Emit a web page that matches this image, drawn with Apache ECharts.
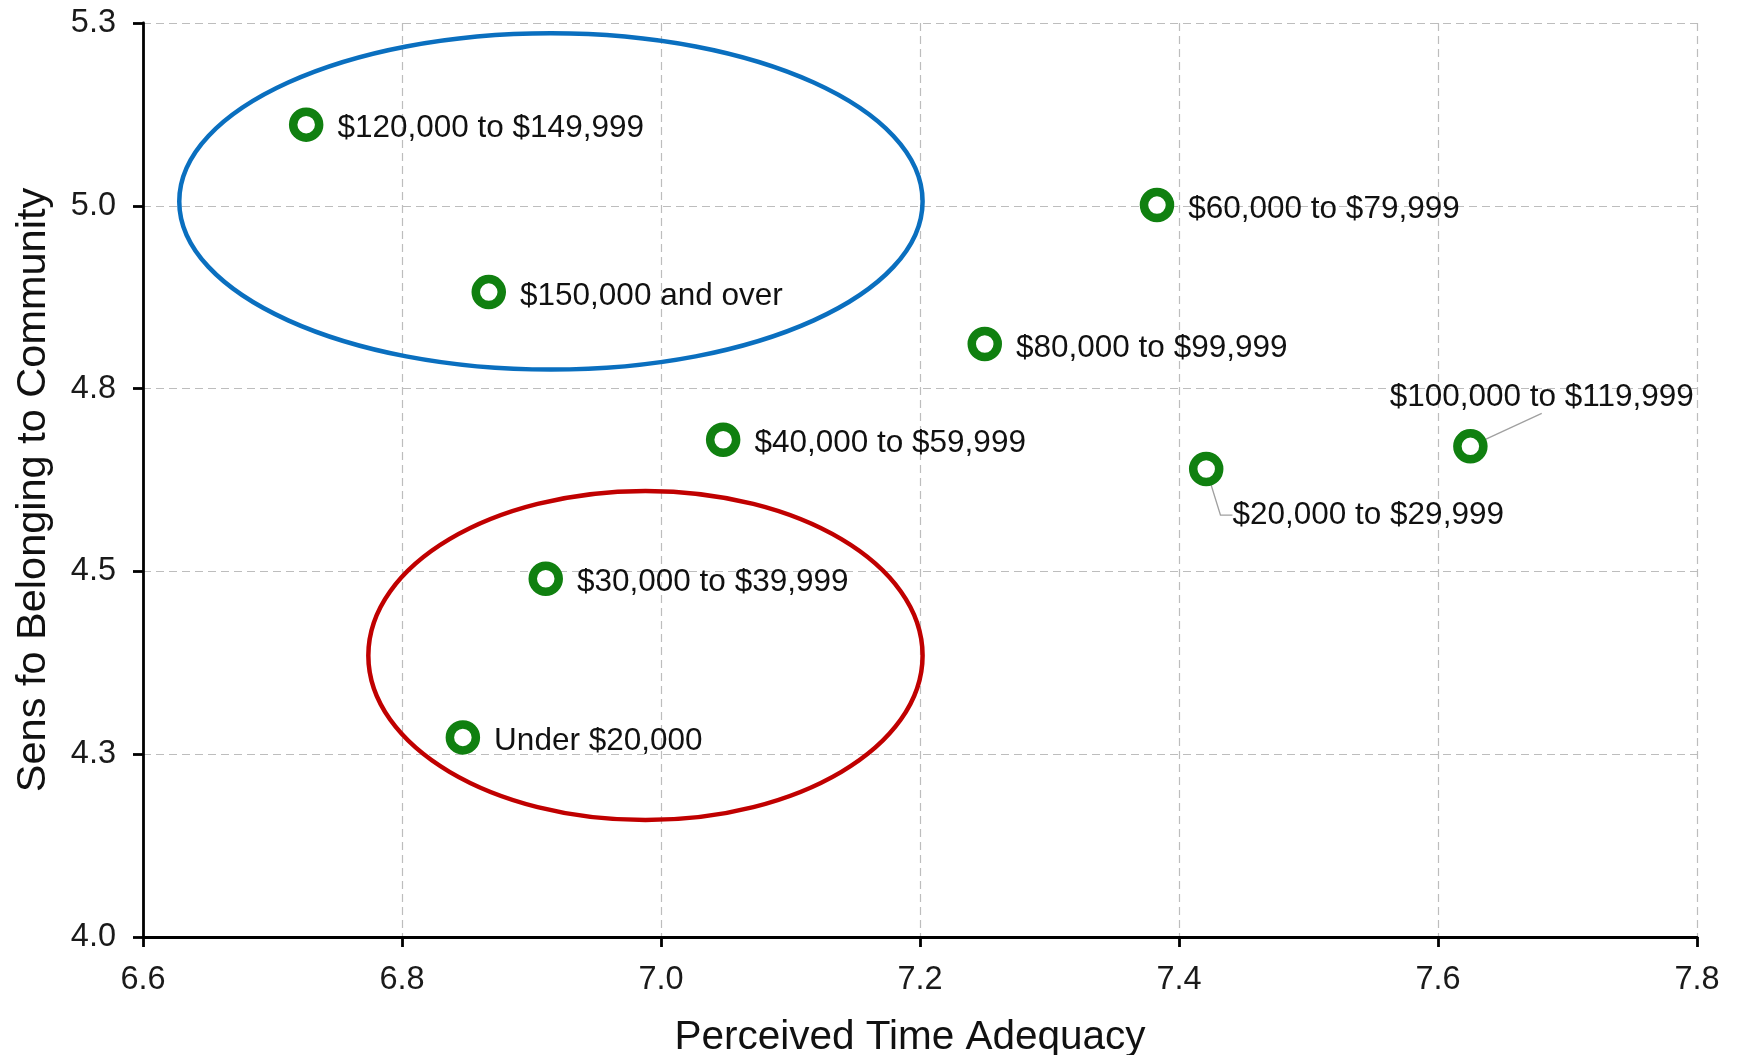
<!DOCTYPE html>
<html>
<head>
<meta charset="utf-8">
<script src="https://cdn.jsdelivr.net/npm/echarts@6/dist/echarts.min.js"></script>
<style>
  html, body { margin: 0; padding: 0; background: #fff; }
  #chart { width: 1738px; height: 1055px; }
</style>
</head>
<body>
<div id="chart"></div>
<script>
// ---- data ----
const categories = [
  'Under $20,000', '$20,000 to $29,999', '$30,000 to $39,999', '$40,000 to $59,999',
  '$60,000 to $79,999', '$80,000 to $99,999', '$100,000 to $119,999',
  '$120,000 to $149,999', '$150,000 and over'
];
const timeAdequacy = [6.847, 7.421, 6.911, 7.048, 7.383, 7.250, 7.625, 6.726, 6.867];
const belonging    = [4.273, 4.640, 4.490, 4.680, 5.001, 4.811, 4.671, 5.111, 4.882];

const xTickValues = [6.6, 6.8, 7.0, 7.2, 7.4, 7.6, 7.8];
const xTickLabels = ['6.6', '6.8', '7.0', '7.2', '7.4', '7.6', '7.8'];
const yTickValues = [4.0, 4.25, 4.5, 4.75, 5.0, 5.25];
const yTickLabels = ['4.0', '4.3', '4.5', '4.8', '5.0', '5.3'];

// annotation ellipses (in data units)
const ellipseCenterX = [6.915, 6.988];
const ellipseCenterY = [5.006, 4.385];
const ellipseRadiusX = [0.287, 0.214];
const ellipseRadiusY = [0.230, 0.225];
const ellipseColors = ['#0a6fbf', '#c00000'];

// ---- label placement (pixel offsets; moved labels get a leader line) ----
const defaultLabelShift = { dx: 0, dy: 4 };
const movedLabels = {
  '$100,000 to $119,999': { dx: -112, dy: -49, length2: 0 },
  '$20,000 to $29,999': { dx: -5, dy: 46, length2: 12 }
};

const FONT = '"Liberation Sans", Arial, Helvetica, sans-serif';

function lookup(values, labels, v) {
  let best = 0;
  for (let i = 0; i < values.length; i++) {
    if (Math.abs(values[i] - v) < Math.abs(values[best] - v)) best = i;
  }
  return labels[best];
}

const seriesData = categories.map((name, i) => {
  const item = { name: name, value: [timeAdequacy[i], belonging[i]] };
  if (movedLabels[name]) {
    item.labelLine = {
      show: true,
      length2: movedLabels[name].length2,
      lineStyle: { color: '#a0a0a0', width: 1.3 }
    };
  }
  return item;
});

const chart = echarts.init(document.getElementById('chart'), null, { renderer: 'canvas' });

chart.setOption({
  animation: false,
  backgroundColor: '#ffffff',
  grid: { left: 143, right: 41, top: 23, bottom: 118, containLabel: false, outerBoundsMode: 'none' },
  xAxis: {
    type: 'value',
    min: 6.6, max: 7.8, interval: 0.2,
    name: 'Perceived Time Adequacy',
    nameLocation: 'middle',
    nameGap: 80,
    nameTextStyle: { fontSize: 40.5, color: '#111', fontFamily: FONT, padding: [0, 20, 0, 0] },
    axisLine: { show: true, onZero: false, lineStyle: { color: '#000', width: 2.8 } },
    axisTick: { show: true, inside: false, length: 10, lineStyle: { color: '#000', width: 2.8 } },
    axisLabel: {
      fontSize: 32.5, color: '#1a1a1a', fontFamily: FONT, margin: 27,
      formatter: v => lookup(xTickValues, xTickLabels, v)
    },
    splitLine: { show: true, lineStyle: { color: '#bdbdbd', width: 1.2, type: [8, 5] } }
  },
  yAxis: {
    type: 'value',
    min: 4.0, max: 5.25, interval: 0.25,
    name: 'Sens fo Belonging to Community',
    nameLocation: 'middle',
    nameGap: 88,
    nameTextStyle: { fontSize: 41.5, color: '#111', fontFamily: FONT, padding: [0, 20, 0, 0] },
    axisLine: { show: true, onZero: false, lineStyle: { color: '#000', width: 2.8 } },
    axisTick: { show: true, inside: false, length: 10, lineStyle: { color: '#000', width: 2.8 } },
    axisLabel: {
      fontSize: 32.5, color: '#1a1a1a', fontFamily: FONT, margin: 27,
      formatter: v => lookup(yTickValues, yTickLabels, v)
    },
    splitLine: { show: true, lineStyle: { color: '#bdbdbd', width: 1.2, type: [8, 5] } }
  },
  series: [{
    type: 'scatter',
    data: seriesData,
    symbol: 'circle',
    symbolSize: 26,
    z: 5,
    itemStyle: { color: '#ffffff', borderColor: '#108010', borderWidth: 8.5, opacity: 1 },
    label: {
      show: true,
      position: 'right',
      distance: 14,
      formatter: p => p.name,
      fontSize: 31.5,
      color: '#111',
      fontFamily: FONT
    },
    labelLine: { show: false },
    labelLayout: function (params) {
      const name = categories[params.dataIndex];
      const m = movedLabels[name] || defaultLabelShift;
      return { dx: m.dx, dy: m.dy };
    },
    emphasis: { disabled: true }
  }]
});

// ellipses placed through the chart's own coordinate conversion
const ellipses = ellipseCenterX.map((cx, i) => {
  const c = chart.convertToPixel({ gridIndex: 0 }, [cx, ellipseCenterY[i]]);
  const ex = chart.convertToPixel({ gridIndex: 0 }, [cx + ellipseRadiusX[i], ellipseCenterY[i]]);
  const ey = chart.convertToPixel({ gridIndex: 0 }, [cx, ellipseCenterY[i] + ellipseRadiusY[i]]);
  return {
    type: 'ellipse',
    z: 3,
    shape: { cx: c[0], cy: c[1], rx: Math.abs(ex[0] - c[0]), ry: Math.abs(c[1] - ey[1]) },
    style: { fill: null, stroke: ellipseColors[i], lineWidth: 4.5 },
    silent: true
  };
});
chart.setOption({ graphic: ellipses });
</script>
</body>
</html>
